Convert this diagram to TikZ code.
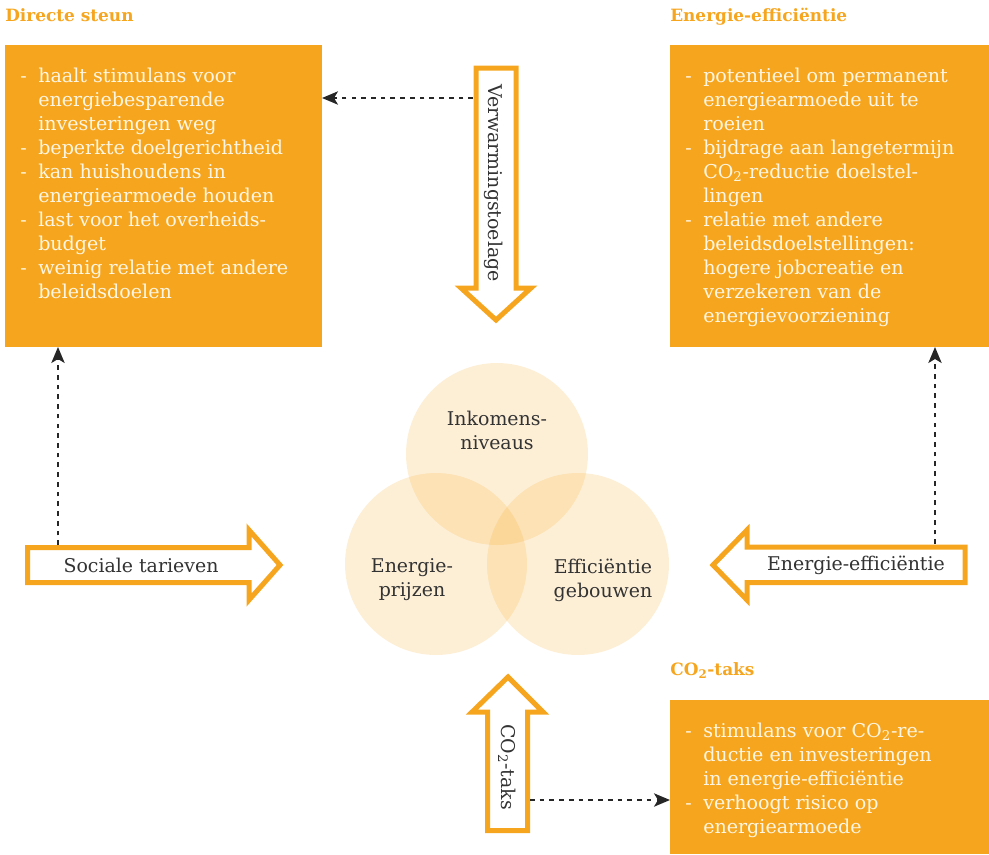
\documentclass[tikz,border=0pt]{standalone}
\usepackage{fontspec}
\setmainfont{DejaVu Serif}
\usetikzlibrary{arrows.meta}
\definecolor{org}{HTML}{F6A61E}
\definecolor{cream}{HTML}{FFF6E4}
\definecolor{txt}{HTML}{333333}
\begin{document}
\begin{tikzpicture}[x=0.75pt,y=-0.75pt,
  box/.style={fill=org, draw=none, anchor=north west, inner sep=0pt, outer sep=0pt},
  boxtxt/.style={anchor=base west, inner sep=0pt, text=cream, font=\fontsize{14.3}{18}\selectfont},
  ttl/.style={anchor=base west, inner sep=0pt, text=org, font=\bfseries\fontsize{12.7}{15}\selectfont},
  fat/.style={draw=org, line width=3.75pt, fill=white, line join=miter},
  lbl/.style={text=txt, font=\fontsize{14.2}{18}\selectfont, inner sep=0pt, align=center},
  conn/.style={draw=black!85, line width=1.4pt, dash pattern=on 3.5pt off 3.8pt, -{Stealth[length=12pt,width=10pt,inset=3pt]}},
  venn/.style={circle, fill=org, fill opacity=0.18, draw=none, minimum size=136.5pt, inner sep=0pt}
]
\useasboundingbox (0,0) rectangle (989,854);

% titles
\node[ttl] (t1) at (5,21) {Directe steun};
\node[ttl] (t2) at (670,21) {Energie-efficiëntie};
\node[ttl] (t3) at (670,675) {CO\textsubscript{2}-taks};

% boxes
\node[box, minimum width=237.75pt, minimum height=226.5pt] (b1) at (5,45) {};
\node[box, minimum width=239.25pt, minimum height=226.5pt] (b2) at (670,45) {};
\node[box, minimum width=239.25pt, minimum height=115.5pt] (b3) at (670,700) {};

\node[boxtxt] (b1t) at (20,82) {\begin{tabular}[t]{@{}p{13.5pt}@{}l@{}}
- & haalt stimulans voor\\
  & energiebesparende\\
  & investeringen weg\\
- & beperkte doelgerichtheid\\
- & kan huishoudens in\\
  & energiearmoede houden\\
- & last voor het overheids-\\
  & budget\\
- & weinig relatie met andere\\
  & beleidsdoelen
\end{tabular}};

\node[boxtxt] (b2t) at (685,82) {\begin{tabular}[t]{@{}p{13.5pt}@{}l@{}}
- & potentieel om permanent\\
  & energiearmoede uit te\\
  & roeien\\
- & bijdrage aan langetermijn\\
  & CO\textsubscript{2}-reductie doelstel-\\
  & lingen\\
- & relatie met andere\\
  & beleidsdoelstellingen:\\
  & hogere jobcreatie en\\
  & verzekeren van de\\
  & energievoorziening
\end{tabular}};

\node[boxtxt] (b3t) at (685,737) {\begin{tabular}[t]{@{}p{13.5pt}@{}l@{}}
- & stimulans voor CO\textsubscript{2}-re-\\
  & ductie en investeringen\\
  & in energie-efficiëntie\\
- & verhoogt risico op\\
  & energiearmoede
\end{tabular}};

% venn circles
\node[venn] (c1) at (497,454) {};
\node[venn] (c2) at (436,564) {};
\node[venn] (c3) at (578,564) {};
\node[lbl] (c1t) at (497,430) {Inkomens-\\niveaus};
\node[lbl] (c2t) at (412,580) {Energie-\\prijzen};
\node[lbl] (c3t) at (603,580) {Efficiëntie\\gebouwen};

% fat arrows
\draw[fat] (476,68) -- (516,68) -- (516,288) -- (531,288) -- (496,320) -- (461,288) -- (476,288) -- cycle;
\node[lbl, rotate=-90] (a1) at (494,183) {Verwarmingstoelage};

\draw[fat] (27.5,547.5) -- (249,547.5) -- (249,530) -- (280,565) -- (249,600) -- (249,582.5) -- (27.5,582.5) -- cycle;
\node[lbl] (a2) at (141,565) {Sociale tarieven};

\draw[fat] (965,547) -- (747,547) -- (747,530) -- (713,565) -- (747,600) -- (747,582.5) -- (965,582.5) -- cycle;
\node[lbl] (a3) at (856,565) {Energie-efficiëntie};

\draw[fat] (487.5,830.5) -- (487.5,712) -- (472,712) -- (508,677) -- (543,712) -- (527.5,712) -- (527.5,830.5) -- cycle;
\node[lbl, rotate=-90] (a4) at (507,767) {CO\textsubscript{2}-taks};

% connector endpoints
\coordinate (p1) at (473,98);
\coordinate (p2) at (58,545);
\coordinate (p3) at (935,544);
\coordinate (p4) at (530,800);

\draw[conn] (p1) -- (b1.east |- p1);
\draw[conn] (p2) -- (b1.south -| p2);
\draw[conn] (p3) -- (b2.south -| p3);
\draw[conn] (p4) -- (b3.west |- p4);
\end{tikzpicture}
\end{document}
